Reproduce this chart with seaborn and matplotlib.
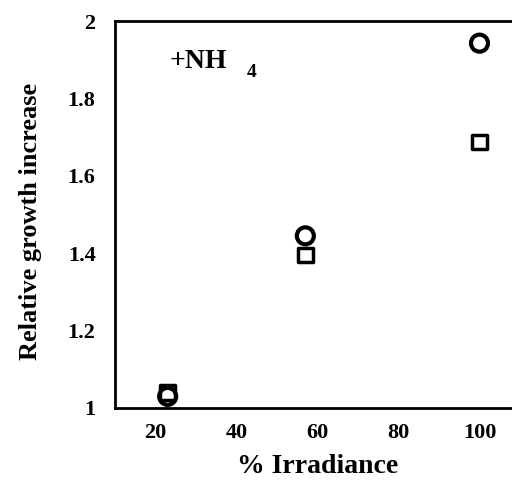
import pandas as pd
import matplotlib
matplotlib.use("Agg")
import matplotlib.pyplot as plt
import seaborn as sns

# values
irradiance = [23, 57, 100]
growth_circle = [1.03, 1.445, 1.943]
growth_square = [1.04, 1.395, 1.687]

df = pd.DataFrame({
    "Irradiance": irradiance * 2,
    "Growth": growth_circle + growth_square,
    "Series": ["circle"] * 3 + ["square"] * 3,
})

sns.set_style("white")
plt.rcParams["font.family"] = ["Liberation Serif", "DejaVu Serif"]
plt.rcParams["font.weight"] = "bold"
plt.rcParams["text.color"] = "black"
plt.rcParams["axes.labelcolor"] = "black"
plt.rcParams["xtick.color"] = "black"
plt.rcParams["ytick.color"] = "black"

fig = plt.figure(figsize=(5.12, 4.83), dpi=100)
# right edge of the axes sits just past the image edge, as in the reference
ax = fig.add_axes([0.2246, 0.1553, 0.791, 0.801])

sns.scatterplot(data=df[df["Series"] == "circle"], x="Irradiance", y="Growth",
                marker="o", s=150, facecolor="none", edgecolor="black",
                linewidth=3, ax=ax, clip_on=False, zorder=3)
sns.scatterplot(data=df[df["Series"] == "square"], x="Irradiance", y="Growth",
                marker="s", s=110, facecolor="none", edgecolor="black",
                linewidth=2.5, ax=ax, clip_on=False, zorder=3)

ax.set_xlim(10, 110)
ax.set_ylim(1, 2)
ax.set_xticks([20, 40, 60, 80, 100])
ax.set_yticks([1, 1.2, 1.4, 1.6, 1.8, 2])
ax.set_yticklabels(["1", "1.2", "1.4", "1.6", "1.8", "2"])
ax.tick_params(axis="x", direction="in", length=5, width=2, labelsize=16, pad=11)
ax.tick_params(axis="y", direction="in", length=5, width=2, labelsize=16, pad=14)
for lab in ax.get_xticklabels() + ax.get_yticklabels():
    lab.set_fontweight("bold")

for side in ["left", "bottom", "top", "right"]:
    ax.spines[side].set_linewidth(2)
    ax.spines[side].set_color("black")

ax.set_xlabel("% Irradiance", fontsize=20, fontweight="bold", labelpad=8)
ax.set_ylabel("Relative growth increase", fontsize=19, fontweight="bold")
ax.yaxis.set_label_coords(-0.18, 0.482)

ax.text(23.5, 1.895, "+NH", fontsize=20, fontweight="bold", va="center")
ax.text(42.5, 1.866, "4", fontsize=14, fontweight="bold", va="center")

fig.savefig("out.png", dpi=100)
